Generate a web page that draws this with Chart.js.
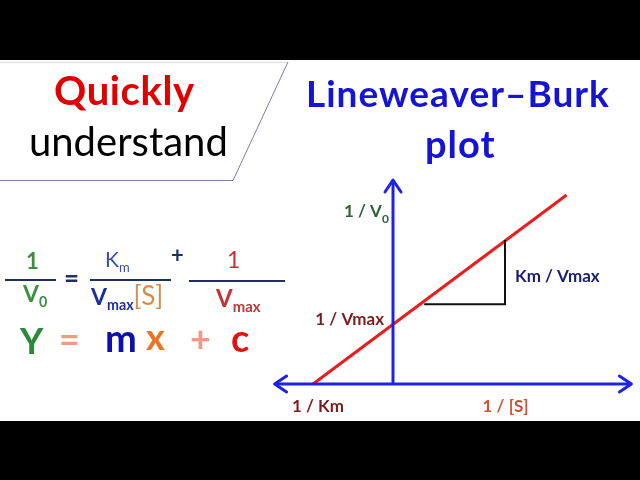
<!DOCTYPE html>
<html lang="en">
<head>
    <meta charset="UTF-8">
    <title>Lineweaver-Burk plot</title>
    <script src="https://cdn.jsdelivr.net/npm/chart.js"></script>
    <style>
        body { margin: 0; background: #000; width: 640px; height: 480px; overflow: hidden; position: relative; font-family: Lato, "Open Sans", sans-serif; }
        #band { position: absolute; left: 0; top: 60px; width: 640px; height: 361px; background: #fff; }
        #grafico { position: absolute; left: 0; top: 0; }
        .t { position: absolute; white-space: nowrap; line-height: 1; }
        .b { font-weight: bold; }
        sub { font-size: 62%; vertical-align: baseline; position: relative; top: 0.35em; }
        .bar { position: absolute; height: 2px; background: #1f2f5f; }
    </style>
</head>
<body>
    <div id="band"></div>
    <canvas id="grafico" width="640" height="480"></canvas>

    <!-- top left -->
    <div class="t b" style="left:54px;top:70px;font-size:40px;letter-spacing:0.6px;color:#e00000">Quickly</div>
    <div class="t" style="left:29px;top:121px;font-size:40px;color:#000">understand</div>

    <!-- title -->
    <div class="t b" style="left:306px;top:74px;font-size:37px;letter-spacing:1px;color:#1414d2">Lineweaver–Burk</div>
    <div class="t b" style="left:425px;top:124px;font-size:38px;letter-spacing:1px;color:#1414d2">plot</div>

    <!-- equation -->
    <div class="t b" style="left:26px;top:250px;font-size:22px;color:#3f8f3f">1</div>
    <div class="bar" style="left:5px;top:279px;width:51px"></div>
    <div class="t b" style="left:23px;top:282px;font-size:23px;color:#3f8f3f">V<sub>0</sub></div>
    <div class="t b" style="left:64px;top:264px;font-size:26px;color:#1f2f5f">=</div>
    <div class="t" style="left:105px;top:248px;font-size:21px;color:#3a4db5">K<sub>m</sub></div>
    <div class="bar" style="left:90px;top:279px;width:81px"></div>
    <div class="t b" style="left:91px;top:282px;font-size:23px;color:#1c2da0">V<sub>max</sub><span style="font-weight:normal;color:#d98c4a;font-size:26px">[S]</span></div>
    <div class="t b" style="left:171px;top:244px;font-size:22px;color:#1f2f5f">+</div>
    <div class="t" style="left:227px;top:248px;font-size:23px;color:#d42a2a">1</div>
    <div class="bar" style="left:189px;top:280px;width:96px"></div>
    <div class="t b" style="left:216px;top:286px;font-size:24px;color:#c03535">V<sub>max</sub></div>

    <div class="t b" style="left:20px;top:322px;font-size:36px;color:#2a8a3a">Y</div>
    <div class="t b" style="left:59px;top:320px;font-size:36px;color:#ee9a84">=</div>
    <div class="t b" style="left:105px;top:318px;font-size:38px;color:#1010a8">m</div>
    <div class="t b" style="left:146px;top:318px;font-size:36px;color:#e8761e">x</div>
    <div class="t b" style="left:190px;top:320px;font-size:36px;color:#ee9a84">+</div>
    <div class="t b" style="left:231px;top:318px;font-size:38px;color:#e01212">c</div>

    <script>
        // plot values (1/[S] on x, 1/V0 on y), units: 1/Km = 1, 1/Vmax = 1
        const assiX = [-1.48, 2.98];      // x axis from left tip to right tip
        const assiY = [0, 3.4];           // y axis from x axis up to tip
        const rettaX = [-1, 2.17];        // red line, starts at -1/Km
        const rettaY = [0, 3.15];
        const triX = [0.39, 1.4, 1.4];    // slope triangle
        const triY = [1.33, 1.33, 2.4];
        const interceptaX = -1;           // -1/Km
        const interceptaY = 1;            // 1/Vmax

        const punti = (xs, ys) => xs.map((x, i) => ({ x: x, y: ys[i] }));

        const blu = '#1e22e6';

        // frecce, cornice, etichette
        const decorazioni = {
            id: 'decorazioni',
            beforeDraw(chart) {
                const c = chart.ctx;
                c.save();
                c.lineWidth = 1;
                c.strokeStyle = '#dcdce4';
                c.beginPath(); c.moveTo(0, 62.5); c.lineTo(288, 62.5); c.stroke();
                c.strokeStyle = '#7c7ca8';
                c.beginPath(); c.moveTo(288, 62); c.lineTo(233, 180.5); c.lineTo(0, 180.5); c.stroke();
                c.restore();
            },
            afterDatasetsDraw(chart) {
                const c = chart.ctx;
                const sx = chart.scales.x, sy = chart.scales.y;
                const x0 = sx.getPixelForValue(0), y0 = sy.getPixelForValue(0);
                const xl = sx.getPixelForValue(assiX[0]), xr = sx.getPixelForValue(assiX[1]);
                const yt = sy.getPixelForValue(assiY[1]);
                c.save();
                c.strokeStyle = blu;
                c.lineWidth = 3;
                c.lineCap = 'round';
                c.lineJoin = 'round';
                c.beginPath();
                c.moveTo(xl + 12, y0 - 8); c.lineTo(xl, y0); c.lineTo(xl + 12, y0 + 8);
                c.moveTo(xr - 12, y0 - 8); c.lineTo(xr, y0); c.lineTo(xr - 12, y0 + 8);
                c.moveTo(x0 - 8, yt + 12); c.lineTo(x0, yt); c.lineTo(x0 + 8, yt + 12);
                c.stroke();

                const f = 'bold 17px Lato, sans-serif';
                c.font = f;
                c.textBaseline = 'alphabetic';
                const scrivi = (txt, x, y, col, align) => {
                    c.fillStyle = col; c.textAlign = align || 'left'; c.fillText(txt, x, y);
                };
                // 1 / V0
                scrivi('1 / V', x0 - 49, 217, '#2e5e3a');
                c.font = 'bold 12px Lato, sans-serif';
                scrivi('0', x0 - 49 + 38, 223, '#2e5e3a');
                c.font = f;
                // 1 / Vmax
                const yi = sy.getPixelForValue(interceptaY);
                scrivi('1 / Vmax', x0 - 9, yi + 1, '#7c1c1c', 'right');
                // Km / Vmax
                const xt = sx.getPixelForValue(triX[1]);
                const ym = (sy.getPixelForValue(triY[1]) + sy.getPixelForValue(triY[2])) / 2;
                scrivi('Km / Vmax', xt + 10, ym + 10, '#1c1c72');
                // 1 / Km
                scrivi('1 / Km', sx.getPixelForValue(interceptaX) - 21, y0 + 28, '#7c1c1c');
                // 1 / [S]
                scrivi('1 / [S]', sx.getPixelForValue(1.12), y0 + 28, '#cc5230');
                c.restore();
            }
        };

        const grafico = new Chart(document.getElementById('grafico').getContext('2d'), {
            type: 'scatter',
            data: {
                datasets: [
                    { data: punti(assiX, [0, 0]), showLine: true, borderColor: blu, borderWidth: 3, pointRadius: 0 },
                    { data: punti([0, 0], assiY), showLine: true, borderColor: blu, borderWidth: 3, pointRadius: 0 },
                    { data: punti(triX, triY), showLine: true, borderColor: '#111', borderWidth: 2, pointRadius: 0 },
                    { data: punti(rettaX, rettaY), showLine: true, borderColor: '#ea1c1c', borderWidth: 3, pointRadius: 0 }
                ]
            },
            options: {
                responsive: false,
                animation: false,
                events: [],
                layout: { padding: { left: 273, right: 7, top: 174, bottom: 66 } },
                plugins: { legend: { display: false }, tooltip: { enabled: false } },
                scales: {
                    x: { type: 'linear', display: false, min: -1.5, max: 3 },
                    y: { type: 'linear', display: false, min: -0.5, max: 3.5 }
                }
            },
            plugins: [decorazioni]
        });
    </script>
</body>
</html>
